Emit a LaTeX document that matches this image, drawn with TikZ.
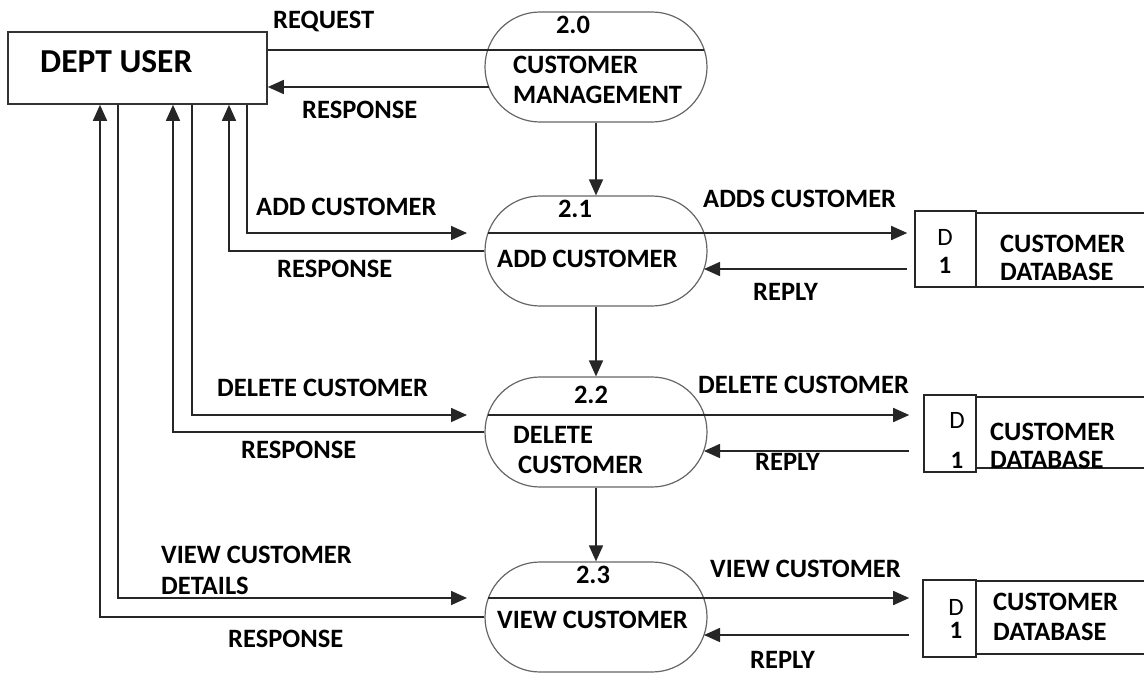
\documentclass[tikz,border=0pt]{standalone}
\usepackage{fontspec}
\setmainfont{Carlito}
\usetikzlibrary{arrows.meta}
\begin{document}
\begin{tikzpicture}[x=1pt,y=-1pt,
  line/.style={line width=1.6pt, draw=black!85},
  flow/.style={line, -{Triangle[length=16pt,width=14pt]}},
  entity/.style={draw=black!80, line width=1.6pt, minimum width=259pt, minimum height=72pt, inner sep=0pt},
  proc/.style={draw=black!60, line width=1.2pt, rounded corners=55pt, minimum width=222pt, minimum height=110pt, inner sep=0pt},
  storebox/.style={draw=black!85, line width=1.6pt, inner sep=0pt},
  lbl/.style={font=\fontsize{26.5}{30}\selectfont\bfseries, inner sep=0pt, anchor=base west},
  num/.style={font=\fontsize{26.5}{30}\selectfont\bfseries, inner sep=0pt, anchor=base},
  big/.style={font=\fontsize{33.5}{38}\selectfont\bfseries, inner sep=0pt, anchor=base west},
  sid/.style={font=\fontsize{25}{28}\selectfont, inner sep=0pt, anchor=base}]
\useasboundingbox (0,0) rectangle (1144,673);

% external entity
\node[entity] (user) at (137.5,68) {};
\node[big] (tuser) at (40,72) {DEPT USER};

% processes
\node[proc] (p20) at (596,67) {};
\node[proc] (p21) at (596,251) {};
\node[proc] (p22) at (596,432) {};
\node[proc] (p23) at (596,617) {};

\node[num] (n20) at (573,33) {2.0};
\node[lbl] (t20a) at (513,73) {CUSTOMER};
\node[lbl] (t20b) at (513,103) {MANAGEMENT};
\node[num] (n21) at (575,217) {2.1};
\node[lbl] (t21) at (497,267) {ADD CUSTOMER};
\node[num] (n22) at (591,403) {2.2};
\node[lbl] (t22a) at (513,443) {DELETE};
\node[lbl] (t22b) at (518,473) {CUSTOMER};
\node[num] (n23) at (593,583) {2.3};
\node[lbl] (t23) at (497,628) {VIEW CUSTOMER};

% data stores
\node[storebox, minimum width=61pt, minimum height=76pt] (s1) at (945.5,249) {};
\node[storebox, minimum width=52pt, minimum height=77pt] (s2) at (950,433.5) {};
\node[storebox, minimum width=53pt, minimum height=77pt] (s3) at (949.5,618.5) {};
\coordinate (s1t) at (1144,213); \coordinate (s1b) at (1144,287);
\coordinate (s2t) at (1144,397); \coordinate (s2b) at (1144,468);
\coordinate (s3t) at (1144,581); \coordinate (s3b) at (1144,654);
\draw[line] (s1.east |- s1t) -- (s1t);
\draw[line] (s1.east |- s1b) -- (s1b);
\draw[line] (s2.east |- s2t) -- (s2t);
\draw[line] (s2.east |- s2b) -- (s2b);
\draw[line] (s3.east |- s3t) -- (s3t);
\draw[line] (s3.east |- s3b) -- (s3b);

\node[sid] (d1a) at (945,245) {D};
\node[sid] (d1b) at (945,273) {\bfseries 1};
\node[sid] (d2a) at (957,428) {D};
\node[sid] (d2b) at (957,468) {\bfseries 1};
\node[sid] (d3a) at (956,615) {D};
\node[sid] (d3b) at (956,638) {\bfseries 1};
\node[lbl] (db1a) at (1000,252) {CUSTOMER};
\node[lbl] (db1b) at (1000,280) {DATABASE};
\node[lbl] (db2a) at (990,440) {CUSTOMER};
\node[lbl] (db2b) at (990,468) {DATABASE};
\node[lbl] (db3a) at (993,610) {CUSTOMER};
\node[lbl] (db3b) at (993,640) {DATABASE};

% chord points on the process outlines
\coordinate (q20) at (704,50);
\coordinate (r20) at (489,87);
\coordinate (c21) at (488,233);
\coordinate (c22) at (488,415);
\coordinate (c23) at (488,598);
\coordinate (y21) at (704,269);
\coordinate (y22) at (704,451);
\coordinate (y23) at (704,635);
% input arrow tips
\coordinate (i21) at (467,233);
\coordinate (i22) at (467,415);
\coordinate (i23) at (467,598);
% columns below the entity
\coordinate (x1) at (100,0);
\coordinate (x2) at (118,0);
\coordinate (x3) at (173,0);
\coordinate (x4) at (192,0);
\coordinate (x5) at (229,0);
\coordinate (x6) at (247,0);

% flows between entity and 2.0
\draw[line] (user.east |- q20) -- (q20);
\draw[flow] (r20) -- (user.east |- r20);
\node[lbl] (lreq) at (273,28) {REQUEST};
\node[lbl] (lres0) at (302,118) {RESPONSE};

% flows between processes
\draw[flow] (p20.south) -- (p21.north);
\draw[flow] (p21.south) -- (p22.north);
\draw[flow] (p22.south) -- (p23.north);

% add customer
\draw[flow] (user.south -| x6) |- (i21);
\draw[flow] (p21.west) -| (user.south -| x5);
\draw[flow, shorten >=7pt] (c21) -- (s1.west |- c21);
\draw[flow, shorten <=7pt] (s1.west |- y21) -- (y21);
\node[lbl] (l1a) at (256,215) {ADD CUSTOMER};
\node[lbl] (l1b) at (277,277) {RESPONSE};
\node[lbl] (l1c) at (703,207) {ADDS CUSTOMER};
\node[lbl] (l1d) at (753,300) {REPLY};

% delete customer
\draw[flow] (user.south -| x4) |- (i22);
\draw[flow] (p22.west) -| (user.south -| x3);
\draw[flow, shorten >=14pt] (c22) -- (s2.west |- c22);
\draw[flow, shorten <=14pt] (s2.west |- y22) -- (y22);
\node[lbl] (l2a) at (217,396) {DELETE CUSTOMER};
\node[lbl] (l2b) at (241,458) {RESPONSE};
\node[lbl] (l2c) at (698,393) {DELETE CUSTOMER};
\node[lbl] (l2d) at (755,470) {REPLY};

% view customer
\draw[flow] (user.south -| x2) |- (i23);
\draw[flow] (p23.west) -| (user.south -| x1);
\draw[flow, shorten >=13pt] (c23) -- (s3.west |- c23);
\draw[flow, shorten <=13pt] (s3.west |- y23) -- (y23);
\node[lbl] (l3a) at (161,563) {VIEW CUSTOMER};
\node[lbl] (l3a2) at (161,594) {DETAILS};
\node[lbl] (l3b) at (228,647) {RESPONSE};
\node[lbl] (l3c) at (710,577) {VIEW CUSTOMER};
\node[lbl] (l3d) at (750,668) {REPLY};
\end{tikzpicture}
\end{document}
